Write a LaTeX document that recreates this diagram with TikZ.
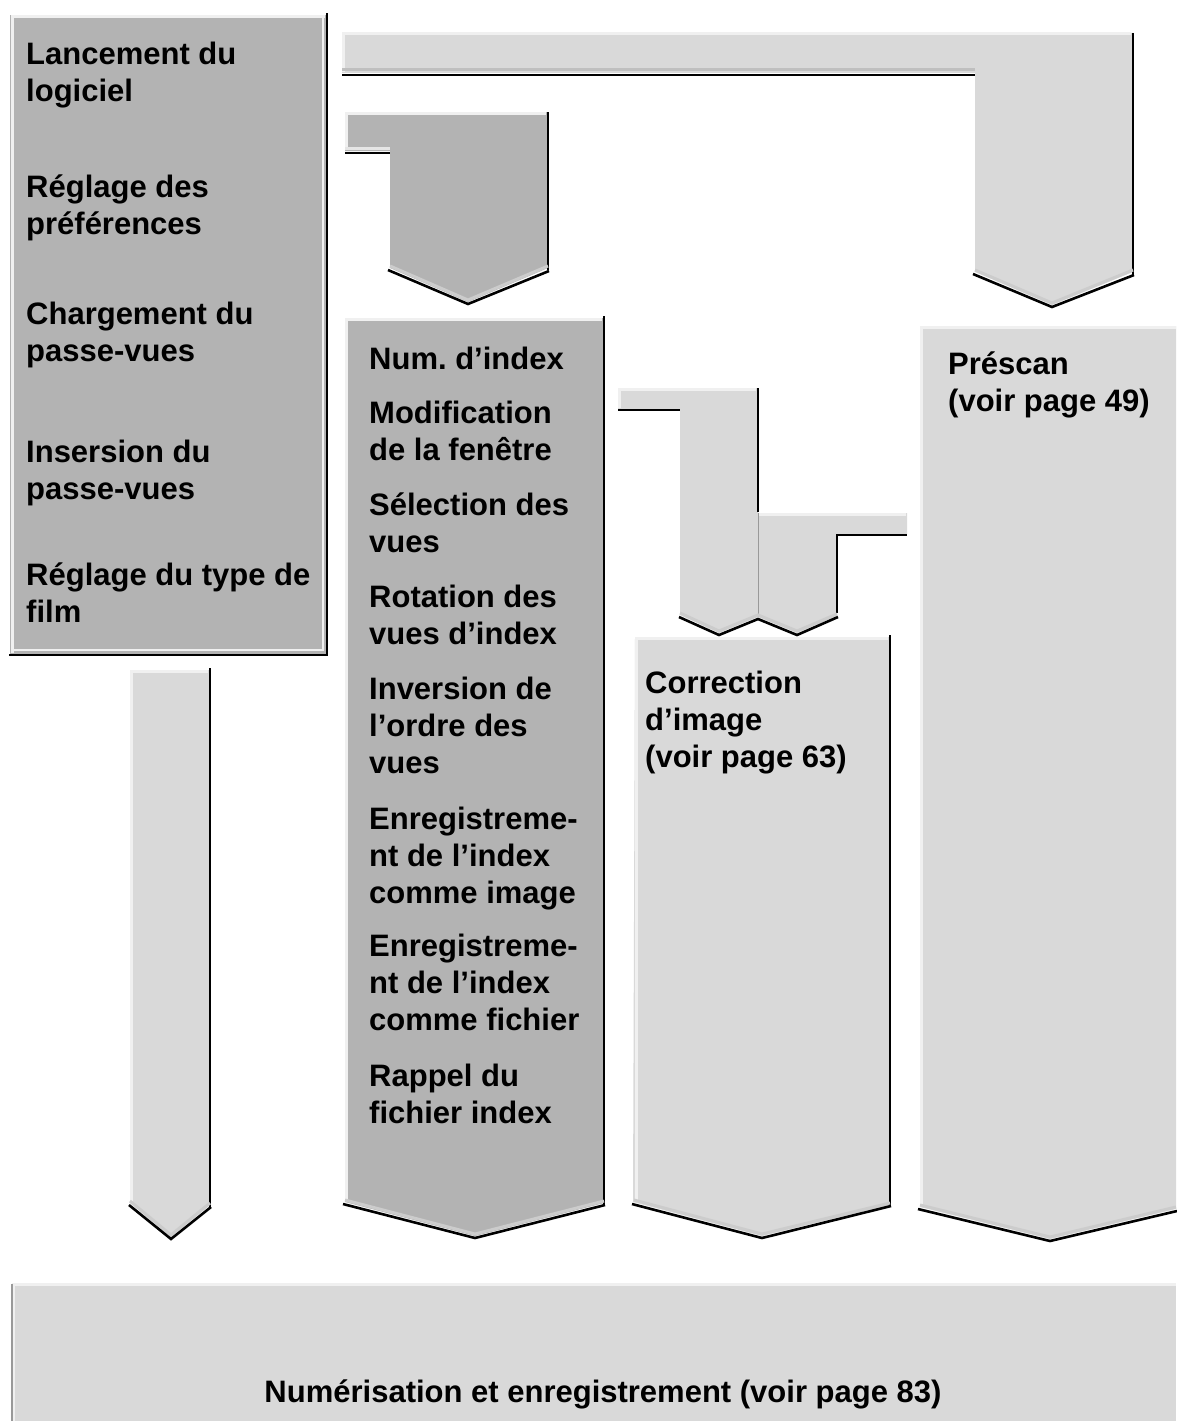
\documentclass[tikz,border=0pt]{standalone}
\usepackage{fontspec}
\setmainfont{Liberation Sans}
\frenchspacing
\definecolor{dk}{HTML}{B3B3B3}
\definecolor{lt}{HTML}{D9D9D9}
\definecolor{hi}{HTML}{F0F0F0}
\begin{document}
\begin{tikzpicture}[x=1pt,y=-1pt,
  darkshape/.style={fill=dk},
  lightshape/.style={fill=lt},
  hiline/.style={draw=hi,line width=3pt},
  edge/.style={draw=black,line width=2.6pt},
  bevelin/.style={draw=gray!40,line width=3pt,yshift=2pt},
  bevelout/.style={draw=black,line width=2.6pt,yshift=-1pt},
  divline/.style={draw=gray!80,line width=1pt},
  lbl/.style={anchor=base west,align=left,inner sep=0pt,font=\bfseries\frenchspacing\fontsize{31}{37}\selectfont}]
\useasboundingbox[fill=white] (0,0) rectangle (1176,1421);

% ---- left box
\fill[darkshape] (10,15) rectangle (327,655);
\draw[hiline] (12,653) -- (12,17) -- (325,17);
\draw[draw=hi,line width=2pt] (13,650) -- (323,650) -- (323,18);
\draw[edge] (9,655) -- (327,655) -- (327,13);

% ---- top connector
\fill[lightshape] (342,33) -- (1133,33) -- (1133,272) -- (1052,305) -- (975,272) -- (975,73) -- (342,73) -- cycle;
\draw[hiline] (343,72) -- (343,34) -- (1131,34);
\draw[draw=gray!50,line width=3pt] (342,70) -- (975,70);
\draw[edge] (342,75) -- (975,75);
\draw[edge] (1133,33) -- (1133,275);
\draw[bevelin] (975,272) -- (1052,305) -- (1133,272);
\draw[bevelout] (973,273) -- (1052,306) -- (1134,274);

% ---- small connector
\fill[darkshape] (345,112) -- (548,112) -- (548,268) -- (468,302) -- (390,268) -- (390,151) -- (345,151) -- cycle;
\draw[hiline] (346,150) -- (346,113) -- (546,113);
\draw[draw=gray!20,line width=3pt] (345,148) -- (390,148);
\draw[edge] (345,153) -- (390,153);
\draw[edge] (548,112) -- (548,270);
\draw[bevelin] (390,268) -- (468,302) -- (548,268);
\draw[bevelout] (388,269) -- (468,303) -- (549,270);

% ---- Num. d'index column
\fill[darkshape] (345,318) -- (604,318) -- (604,1203) -- (475,1236) -- (345,1202) -- cycle;
\draw[hiline] (346,1200) -- (346,319) -- (602,319);
\draw[edge] (604,316) -- (604,1205);
\draw[bevelin] (345,1202) -- (475,1236) -- (604,1203);
\draw[bevelout] (343,1203) -- (475,1237) -- (605,1204);

% ---- left arrow
\fill[lightshape] (130,670) -- (210,670) -- (210,1205) -- (171,1237) -- (130,1203) -- cycle;
\draw[hiline] (131,1202) -- (131,671) -- (208,671);
\draw[edge] (210,668) -- (210,1207);
\draw[bevelin] (130,1203) -- (171,1237) -- (210,1205);
\draw[bevelout] (129,1204) -- (171,1238) -- (211,1206);

% ---- middle connector 1
\fill[lightshape] (618,388) -- (758,388) -- (758,617) -- (719,633) -- (680,615) -- (680,409) -- (618,409) -- cycle;
\draw[hiline] (619,408) -- (619,389) -- (756,389);
\draw[edge] (618,410) -- (680,410);
\draw[edge] (758,388) -- (758,512);

% ---- middle connector 2
\fill[lightshape] (758,513) -- (907,513) -- (907,534) -- (837,534) -- (837,616) -- (797,633) -- (758,617) -- cycle;
\draw[hiline] (759,514) -- (906,514);
\draw[edge] (837,535) -- (907,535);
\draw[edge] (837,534) -- (837,613);
\draw[divline] (758,513) -- (758,617);
\draw[bevelin] (680,615) -- (719,633) -- (758,617) -- (797,633) -- (837,616);
\draw[bevelout] (679,616) -- (719,634) -- (758,618) -- (797,634) -- (838,616);

% ---- Correction column
\fill[lightshape] (635,637) -- (890,637) -- (890,1205) -- (762,1236) -- (633,1202) -- cycle;
\draw[hiline] (636,1200) -- (636,638) -- (888,638);
\draw[edge] (890,635) -- (890,1206);
\draw[bevelin] (634,1202) -- (762,1236) -- (890,1205);
\draw[bevelout] (632,1203) -- (762,1237) -- (891,1205);

% ---- Prescan column
\fill[lightshape] (920,326) -- (1176,326) -- (1176,1209) -- (1050,1239) -- (920,1207) -- cycle;
\draw[hiline] (921,1205) -- (921,327) -- (1176,327);
\draw[bevelin] (920,1207) -- (1050,1239) -- (1176,1209);
\draw[bevelout] (918,1208) -- (1050,1240) -- (1177,1210);

% ---- bottom box
\fill[lightshape] (12,1283) rectangle (1176,1421);
\draw[hiline] (13,1421) -- (13,1284) -- (1176,1284);
\draw[draw=gray!80,line width=1.5pt] (12,1284) -- (12,1421);

% ---- texts (anchor base = baseline of the last line)
\node[lbl] (l1) at (26,101) {Lancement du\\logiciel};
\node[lbl] (l2) at (26,234) {Réglage des\\préférences};
\node[lbl] (l3) at (26,361) {Chargement du\\passe-vues};
\node[lbl] (l4) at (26,499) {Insersion du\\passe-vues};
\node[lbl] (l5) at (26,622) {Réglage du type de\\film};

\node[lbl] (m1) at (369,369) {Num. d’index};
\node[lbl] (m2) at (369,460) {Modification\\de la fenêtre};
\node[lbl] (m3) at (369,552) {Sélection des\\vues};
\node[lbl] (m4) at (369,644) {Rotation des\\vues d’index};
\node[lbl] (m5) at (369,773) {Inversion de\\l’ordre des\\vues};
\node[lbl] (m6) at (369,903) {Enregistreme-\\nt de l’index\\comme image};
\node[lbl] (m7) at (369,1030) {Enregistreme-\\nt de l’index\\comme fichier};
\node[lbl] (m8) at (369,1123) {Rappel du\\fichier index};

\node[lbl] (c1) at (645,767) {Correction\\d’image\\(voir page 63)};
\node[lbl] (p1) at (948,411) {Préscan\\(voir page 49)};

\node[lbl,anchor=base] (b1) at (603,1402) {Numérisation et enregistrement (voir page 83)};
\end{tikzpicture}
\end{document}
